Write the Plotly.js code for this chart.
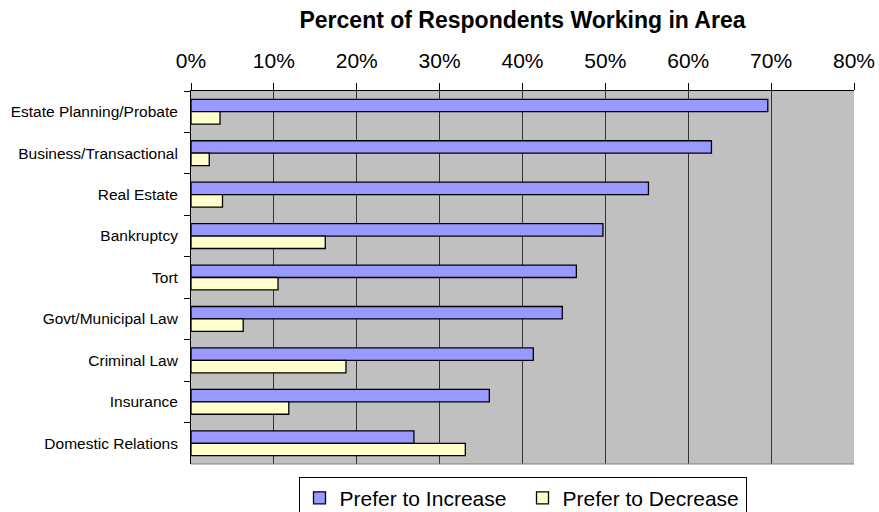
<!DOCTYPE html>
<html>
<head>
<meta charset="utf-8">
<script src="https://cdn.plot.ly/plotly-3.0.1.min.js"></script>
<style>
  html, body { margin: 0; padding: 0; background: #ffffff; }
  #chart { width: 879px; height: 512px; }
</style>
</head>
<body>
<div id="chart"></div>
<script>
// Practice areas, top to bottom
const areas = [
  "Estate Planning/Probate",
  "Business/Transactional",
  "Real Estate",
  "Bankruptcy",
  "Tort",
  "Govt/Municipal Law",
  "Criminal Law",
  "Insurance",
  "Domestic Relations"
];

// Percent of respondents working in each area
const preferIncrease = [69.6, 62.8, 55.2, 49.7, 46.5, 44.8, 41.3, 36.0, 26.9];
const preferDecrease = [3.5, 2.2, 3.8, 16.2, 10.5, 6.3, 18.7, 11.8, 33.1];

const xTicks = [0, 10, 20, 30, 40, 50, 60, 70, 80];

const FONT = '"Liberation Sans", Arial, sans-serif';

const traces = [
  {
    type: "bar",
    orientation: "h",
    name: "Prefer to Increase",
    y: areas,
    x: preferIncrease,
    marker: { color: "#9999FF", line: { color: "#000000", width: 1.3 } },
    hoverinfo: "skip"
  },
  {
    type: "bar",
    orientation: "h",
    name: "Prefer to Decrease",
    y: areas,
    x: preferDecrease,
    marker: { color: "#FFFFCC", line: { color: "#000000", width: 1.3 } },
    hoverinfo: "skip"
  }
];

const layout = {
  width: 879,
  height: 512,
  paper_bgcolor: "#ffffff",
  plot_bgcolor: "#C0C0C0",
  font: { family: FONT, color: "#000000" },
  margin: { l: 191, r: 25, t: 91, b: 48, pad: 0, autoexpand: false },
  barmode: "group",
  bargap: 0.4,
  bargroupgap: 0,
  showlegend: true,
  title: {
    text: "<b>Percent of Respondents Working in Area</b>",
    font: { family: FONT, size: 23, color: "#000000" },
    x: 0.5, xref: "paper", xanchor: "center",
    y: 1 - 20 / 512, yref: "container", yanchor: "middle"
  },
  xaxis: {
    side: "top",
    range: [0, 80],
    tickvals: xTicks,
    ticktext: xTicks.map(v => v + "%"),
    ticks: "outside",
    ticklen: 7,
    tickcolor: "#000000",
    tickwidth: 1,
    ticklabelstandoff: 7,
    tickfont: { family: FONT, size: 21, color: "#000000" },
    showgrid: true,
    gridcolor: "#333333",
    gridwidth: 1,
    showline: true,
    linecolor: "#000000",
    linewidth: 1,
    zeroline: false,
    fixedrange: true
  },
  yaxis: {
    autorange: "reversed",
    type: "category",
    ticks: "outside",
    tickson: "boundaries",
    ticklen: 6,
    tickcolor: "#000000",
    tickwidth: 1,
    ticklabelstandoff: 9,
    tickfont: { family: FONT, size: 15.5, color: "#000000" },
    showgrid: false,
    showline: true,
    linecolor: "#000000",
    linewidth: 1,
    zeroline: false,
    fixedrange: true
  },
  legend: {
    orientation: "h",
    x: 0.5, xanchor: "center",
    y: -0.034, yanchor: "top",
    bgcolor: "#ffffff",
    bordercolor: "#000000",
    borderwidth: 1,
    font: { family: FONT, size: 21, color: "#000000" },
    itemwidth: 30,
    entrywidth: 178,
    tracegroupgap: 0
  },
  shapes: [
    {
      type: "line", xref: "paper", yref: "paper",
      x0: 0, x1: 1, y0: 0, y1: 0,
      line: { color: "#808080", width: 1 }
    }
  ]
};

Plotly.newPlot("chart", traces, layout, { displayModeBar: false, staticPlot: true });
</script>
</body>
</html>
